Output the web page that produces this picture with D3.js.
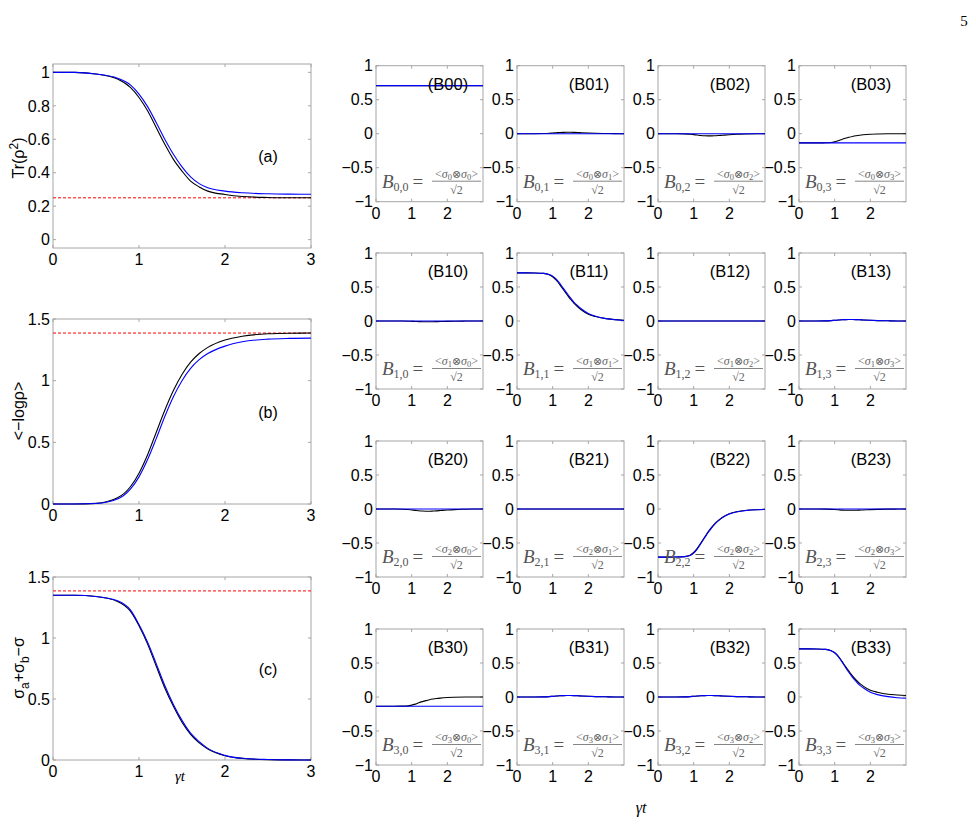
<!DOCTYPE html>
<html>
<head>
<meta charset="utf-8">
<script src="https://cdn.jsdelivr.net/npm/d3@7"></script>
<style>
  body { margin: 0; background: #fff; }
  svg text { font-family: "Liberation Sans", Arial, sans-serif; }
  svg text.serif { font-family: "Liberation Serif", "DejaVu Serif", serif; }
</style>
</head>
<body>
<svg id="fig" width="976" height="828"></svg>
<script>
"use strict";

// sample times (gamma t)
const tPts = [0, 0.25, 0.5, 0.75, 0.9, 1.0, 1.1, 1.2, 1.3, 1.4, 1.5, 1.6, 1.7, 1.8, 2.0, 2.2, 2.5, 2.75, 3.0];

// left column: exact (black) vs approximate (blue)
const purityExact  = [1, 1, 0.99, 0.96, 0.91, 0.85, 0.77, 0.67, 0.57, 0.48, 0.41, 0.35, 0.315, 0.29, 0.27, 0.258, 0.252, 0.25, 0.25];
const purityApprox = [1, 1, 0.99, 0.965, 0.925, 0.87, 0.795, 0.70, 0.60, 0.51, 0.435, 0.375, 0.335, 0.31, 0.29, 0.28, 0.274, 0.272, 0.271];
const entropyExact  = [0, 0, 0.005, 0.05, 0.14, 0.25, 0.40, 0.58, 0.76, 0.92, 1.05, 1.15, 1.22, 1.27, 1.33, 1.36, 1.38, 1.385, 1.386];
const entropyApprox = [0, 0, 0.004, 0.04, 0.12, 0.22, 0.36, 0.53, 0.71, 0.87, 1.00, 1.10, 1.17, 1.22, 1.28, 1.315, 1.337, 1.343, 1.345];
const mutualExact  = [1.35, 1.35, 1.34, 1.30, 1.22, 1.10, 0.95, 0.77, 0.59, 0.44, 0.31, 0.21, 0.14, 0.09, 0.035, 0.013, 0.003, 0.001, 0];
const mutualApprox = [1.35, 1.35, 1.34, 1.305, 1.23, 1.11, 0.965, 0.79, 0.61, 0.455, 0.325, 0.22, 0.15, 0.095, 0.038, 0.014, 0.004, 0.001, 0];
const purityLimit = 0.25;
const entropyLimit = 1.386;

const leftLabels = ["(a)", "(b)", "(c)"];
const purityTicks = [0, 0.2, 0.4, 0.6, 0.8, 1];
const entropyTicks = [0, 0.5, 1, 1.5];
const leftXTicks = [0, 1, 2, 3];

// right grid curves
const flatHalf   = tPts.map(() => 0.707);
const zeroLine   = tPts.map(() => 0);
const offsetFlat = tPts.map(() => -0.135);
const offsetRise = [-0.135, -0.135, -0.135, -0.134, -0.13, -0.12, -0.105, -0.085, -0.068, -0.053, -0.04, -0.03, -0.022, -0.016, -0.008, -0.004, -0.001, 0, 0];
const bumpUp     = [0, 0, 0, 0.002, 0.006, 0.01, 0.014, 0.018, 0.02, 0.021, 0.021, 0.02, 0.018, 0.015, 0.01, 0.006, 0.003, 0.001, 0];
const dipDown    = [0, 0, 0, -0.003, -0.008, -0.014, -0.02, -0.026, -0.03, -0.032, -0.032, -0.03, -0.027, -0.023, -0.015, -0.009, -0.004, -0.001, 0];
const shallowDip = [0, 0, 0, -0.002, -0.005, -0.008, -0.012, -0.016, -0.018, -0.019, -0.019, -0.018, -0.016, -0.014, -0.009, -0.005, -0.002, -0.001, 0];
const smallDip   = [0, 0, 0, -0.001, -0.003, -0.005, -0.007, -0.009, -0.01, -0.011, -0.011, -0.01, -0.009, -0.008, -0.005, -0.003, -0.001, 0, 0];
const decay11Exact  = [0.707, 0.707, 0.706, 0.70, 0.68, 0.65, 0.60, 0.535, 0.46, 0.39, 0.32, 0.26, 0.21, 0.165, 0.10, 0.065, 0.035, 0.02, 0.012];
const decay11Approx = [0.707, 0.707, 0.706, 0.70, 0.685, 0.66, 0.615, 0.555, 0.48, 0.41, 0.34, 0.275, 0.225, 0.18, 0.11, 0.07, 0.035, 0.018, 0.008];
const rise22Exact  = [-0.707, -0.707, -0.706, -0.70, -0.68, -0.64, -0.58, -0.50, -0.42, -0.34, -0.27, -0.21, -0.165, -0.125, -0.07, -0.04, -0.018, -0.01, -0.006];
const rise22Approx = [-0.707, -0.707, -0.706, -0.70, -0.685, -0.65, -0.59, -0.51, -0.43, -0.35, -0.28, -0.22, -0.17, -0.13, -0.075, -0.043, -0.02, -0.011, -0.007];
const decay33Exact  = [0.707, 0.707, 0.706, 0.70, 0.68, 0.65, 0.60, 0.53, 0.45, 0.38, 0.31, 0.25, 0.20, 0.16, 0.10, 0.07, 0.04, 0.03, 0.022];
const decay33Approx = [0.707, 0.707, 0.706, 0.70, 0.68, 0.65, 0.595, 0.52, 0.44, 0.36, 0.29, 0.23, 0.175, 0.135, 0.07, 0.035, 0.005, -0.01, -0.018];

// [exact, approx] per cell, row-major
const gridCurves = [
  [flatHalf, flatHalf], [bumpUp, zeroLine], [dipDown, zeroLine], [offsetRise, offsetFlat],
  [smallDip, zeroLine], [decay11Exact, decay11Approx], [zeroLine, zeroLine], [bumpUp, bumpUp],
  [dipDown, zeroLine], [zeroLine, zeroLine], [rise22Exact, rise22Approx], [shallowDip, zeroLine],
  [offsetRise, offsetFlat], [bumpUp, bumpUp], [bumpUp, bumpUp], [decay33Exact, decay33Approx]
];
const gridYTicks = [-1, -0.5, 0, 0.5, 1];
const gridXTicks = [0, 1, 2];

const svg = d3.select("#fig");
const fmt = v => String(v).replace("-", "\u2212");

function drawAxesBox(g, x, y, xTicks, yTicks, fontSize) {
  let [x0, x1] = x.range();
  let [y0, y1] = y.range();
  g.append("rect")
    .attr("x", x0).attr("y", y1)
    .attr("width", x1 - x0).attr("height", y0 - y1)
    .attr("fill", "#fff").attr("stroke", "#a6a6a6").attr("stroke-width", 1);

  let tl = 3;
  // inward tick marks on all four sides
  xTicks.forEach(v => {
    g.append("line").attr("x1", x(v)).attr("x2", x(v)).attr("y1", y0).attr("y2", y0 - tl).attr("stroke", "#a6a6a6");
    g.append("line").attr("x1", x(v)).attr("x2", x(v)).attr("y1", y1).attr("y2", y1 + tl).attr("stroke", "#a6a6a6");
  });
  yTicks.forEach(v => {
    g.append("line").attr("x1", x0).attr("x2", x0 + tl).attr("y1", y(v)).attr("y2", y(v)).attr("stroke", "#a6a6a6");
    g.append("line").attr("x1", x1).attr("x2", x1 - tl).attr("y1", y(v)).attr("y2", y(v)).attr("stroke", "#a6a6a6");
  });

  g.selectAll(".xt").data(xTicks).enter().append("text")
    .attr("x", d => x(d)).attr("y", y0 + fontSize + 1)
    .attr("text-anchor", "middle").attr("font-size", fontSize)
    .text(d => fmt(d));
  g.selectAll(".yt").data(yTicks).enter().append("text")
    .attr("x", x0 - 3).attr("y", d => y(d) + fontSize * 0.36)
    .attr("text-anchor", "end").attr("font-size", fontSize)
    .text(d => fmt(d));
}

function drawCurves(g, x, y, exact, approx) {
  let line = d3.line()
    .x((d, i) => x(tPts[i]))
    .y(d => y(d))
    .curve(d3.curveMonotoneX);
  g.append("path").datum(exact).attr("d", line)
    .attr("fill", "none").attr("stroke", "#000").attr("stroke-width", 1.1);
  g.append("path").datum(approx).attr("d", line)
    .attr("fill", "none").attr("stroke", "#0000ff").attr("stroke-width", 1.1);
}

// ---------- left column ----------
let leftPanels = [
  { top: 64, bottom: 248, domain: [-0.05, 1.05], ticks: purityTicks, exact: purityExact, approx: purityApprox, limit: purityLimit },
  { top: 319, bottom: 504, domain: [0, 1.5], ticks: entropyTicks, exact: entropyExact, approx: entropyApprox, limit: entropyLimit },
  { top: 577, bottom: 760, domain: [0, 1.5], ticks: entropyTicks, exact: mutualExact, approx: mutualApprox, limit: entropyLimit }
];

leftPanels.forEach((p, i) => {
  let g = svg.append("g");
  let x = d3.scaleLinear().domain([0, 3]).range([53, 311]);
  let y = d3.scaleLinear().domain(p.domain).range([p.bottom, p.top]);
  drawAxesBox(g, x, y, leftXTicks, p.ticks, 16);
  g.append("line")
    .attr("x1", x(0)).attr("x2", x(3))
    .attr("y1", y(p.limit)).attr("y2", y(p.limit))
    .attr("stroke", "#ff0000").attr("stroke-width", 1).attr("stroke-dasharray", "3,2");
  drawCurves(g, x, y, p.exact, p.approx);
  g.append("text")
    .attr("x", 268).attr("y", (p.top + p.bottom) / 2 + 6)
    .attr("text-anchor", "middle").attr("font-size", 16)
    .text(leftLabels[i]);
});

// left y labels
let yl1 = svg.append("text").attr("transform", "translate(24,158) rotate(-90)")
  .attr("text-anchor", "middle").attr("font-size", 16);
yl1.append("tspan").text("Tr(\u03c1");
yl1.append("tspan").attr("font-size", 12).attr("dy", -6).text("2");
yl1.append("tspan").attr("dy", 6).text(")");

svg.append("text").attr("transform", "translate(24,411) rotate(-90)")
  .attr("text-anchor", "middle").attr("font-size", 16)
  .text("<\u2212log\u03c1>");

let yl3 = svg.append("text").attr("transform", "translate(24,668) rotate(-90)")
  .attr("text-anchor", "middle").attr("font-size", 16);
yl3.append("tspan").text("\u03c3");
yl3.append("tspan").attr("font-size", 12).attr("dy", 5).text("a");
yl3.append("tspan").attr("dy", -5).text("+\u03c3");
yl3.append("tspan").attr("font-size", 12).attr("dy", 5).text("b");
yl3.append("tspan").attr("dy", -5).text("\u2212\u03c3");

// ---------- right 4x4 grid ----------
const colLefts = [376, 517, 658, 799];
const rowTops = [65.7, 253, 441, 629];
const cellW = 107, cellH = 136;

gridCurves.forEach((c, k) => {
  let r = Math.floor(k / 4), col = k % 4;
  let left = colLefts[col], top = rowTops[r];
  let g = svg.append("g");
  let x = d3.scaleLinear().domain([0, 3]).range([left, left + cellW]);
  let y = d3.scaleLinear().domain([-1, 1]).range([top + cellH, top]);
  drawAxesBox(g, x, y, gridXTicks, gridYTicks, 16);
  drawCurves(g, x, y, c[0], c[1]);

  g.append("text")
    .attr("x", left + 72).attr("y", top + 24)
    .attr("text-anchor", "middle").attr("font-size", 16.5)
    .text(`(B${r}${col})`);

  // B_{r,c} = <σr⊗σc>/√2
  let lhs = g.append("text").attr("class", "serif").attr("fill", "#555")
    .attr("x", left + 6).attr("y", top + 122).attr("font-size", 19);
  lhs.append("tspan").attr("font-style", "italic").text("B");
  lhs.append("tspan").attr("font-size", 12).attr("dy", 3).text(`${r},${col}`);
  lhs.append("tspan").attr("dy", -3).attr("dx", 4).text("=");

  let fx = left + 80.5;
  let num = g.append("text").attr("class", "serif").attr("fill", "#666")
    .attr("x", fx).attr("y", top + 112).attr("text-anchor", "middle").attr("font-size", 12);
  num.append("tspan").text("<");
  num.append("tspan").attr("font-style", "italic").text("\u03c3");
  num.append("tspan").attr("font-size", 8.5).attr("dy", 2).text(r);
  num.append("tspan").attr("dy", -2).attr("font-family", "DejaVu Serif").attr("font-size", 11).text("\u2297");
  num.append("tspan").attr("font-style", "italic").text("\u03c3");
  num.append("tspan").attr("font-size", 8.5).attr("dy", 2).text(col);
  num.append("tspan").attr("dy", -2).text(">");
  g.append("line")
    .attr("x1", fx - 24.5).attr("x2", fx + 24.5)
    .attr("y1", top + 115.5).attr("y2", top + 115.5)
    .attr("stroke", "#666").attr("stroke-width", 0.8);
  g.append("text").attr("class", "serif").attr("fill", "#666")
    .attr("x", fx).attr("y", top + 128).attr("text-anchor", "middle").attr("font-size", 12)
    .text("\u221a2");
});

// axis titles and page number
svg.append("text").attr("class", "serif")
  .attr("x", 180).attr("y", 781).attr("text-anchor", "middle")
  .attr("font-size", 15).attr("font-style", "italic").text("\u03b3t");
svg.append("text").attr("class", "serif")
  .attr("x", 641).attr("y", 813).attr("text-anchor", "middle")
  .attr("font-size", 16).attr("font-style", "italic").text("\u03b3t");
svg.append("text").attr("class", "serif")
  .attr("x", 964).attr("y", 26).attr("text-anchor", "middle")
  .attr("font-size", 15).text("5");
</script>
</body>
</html>
